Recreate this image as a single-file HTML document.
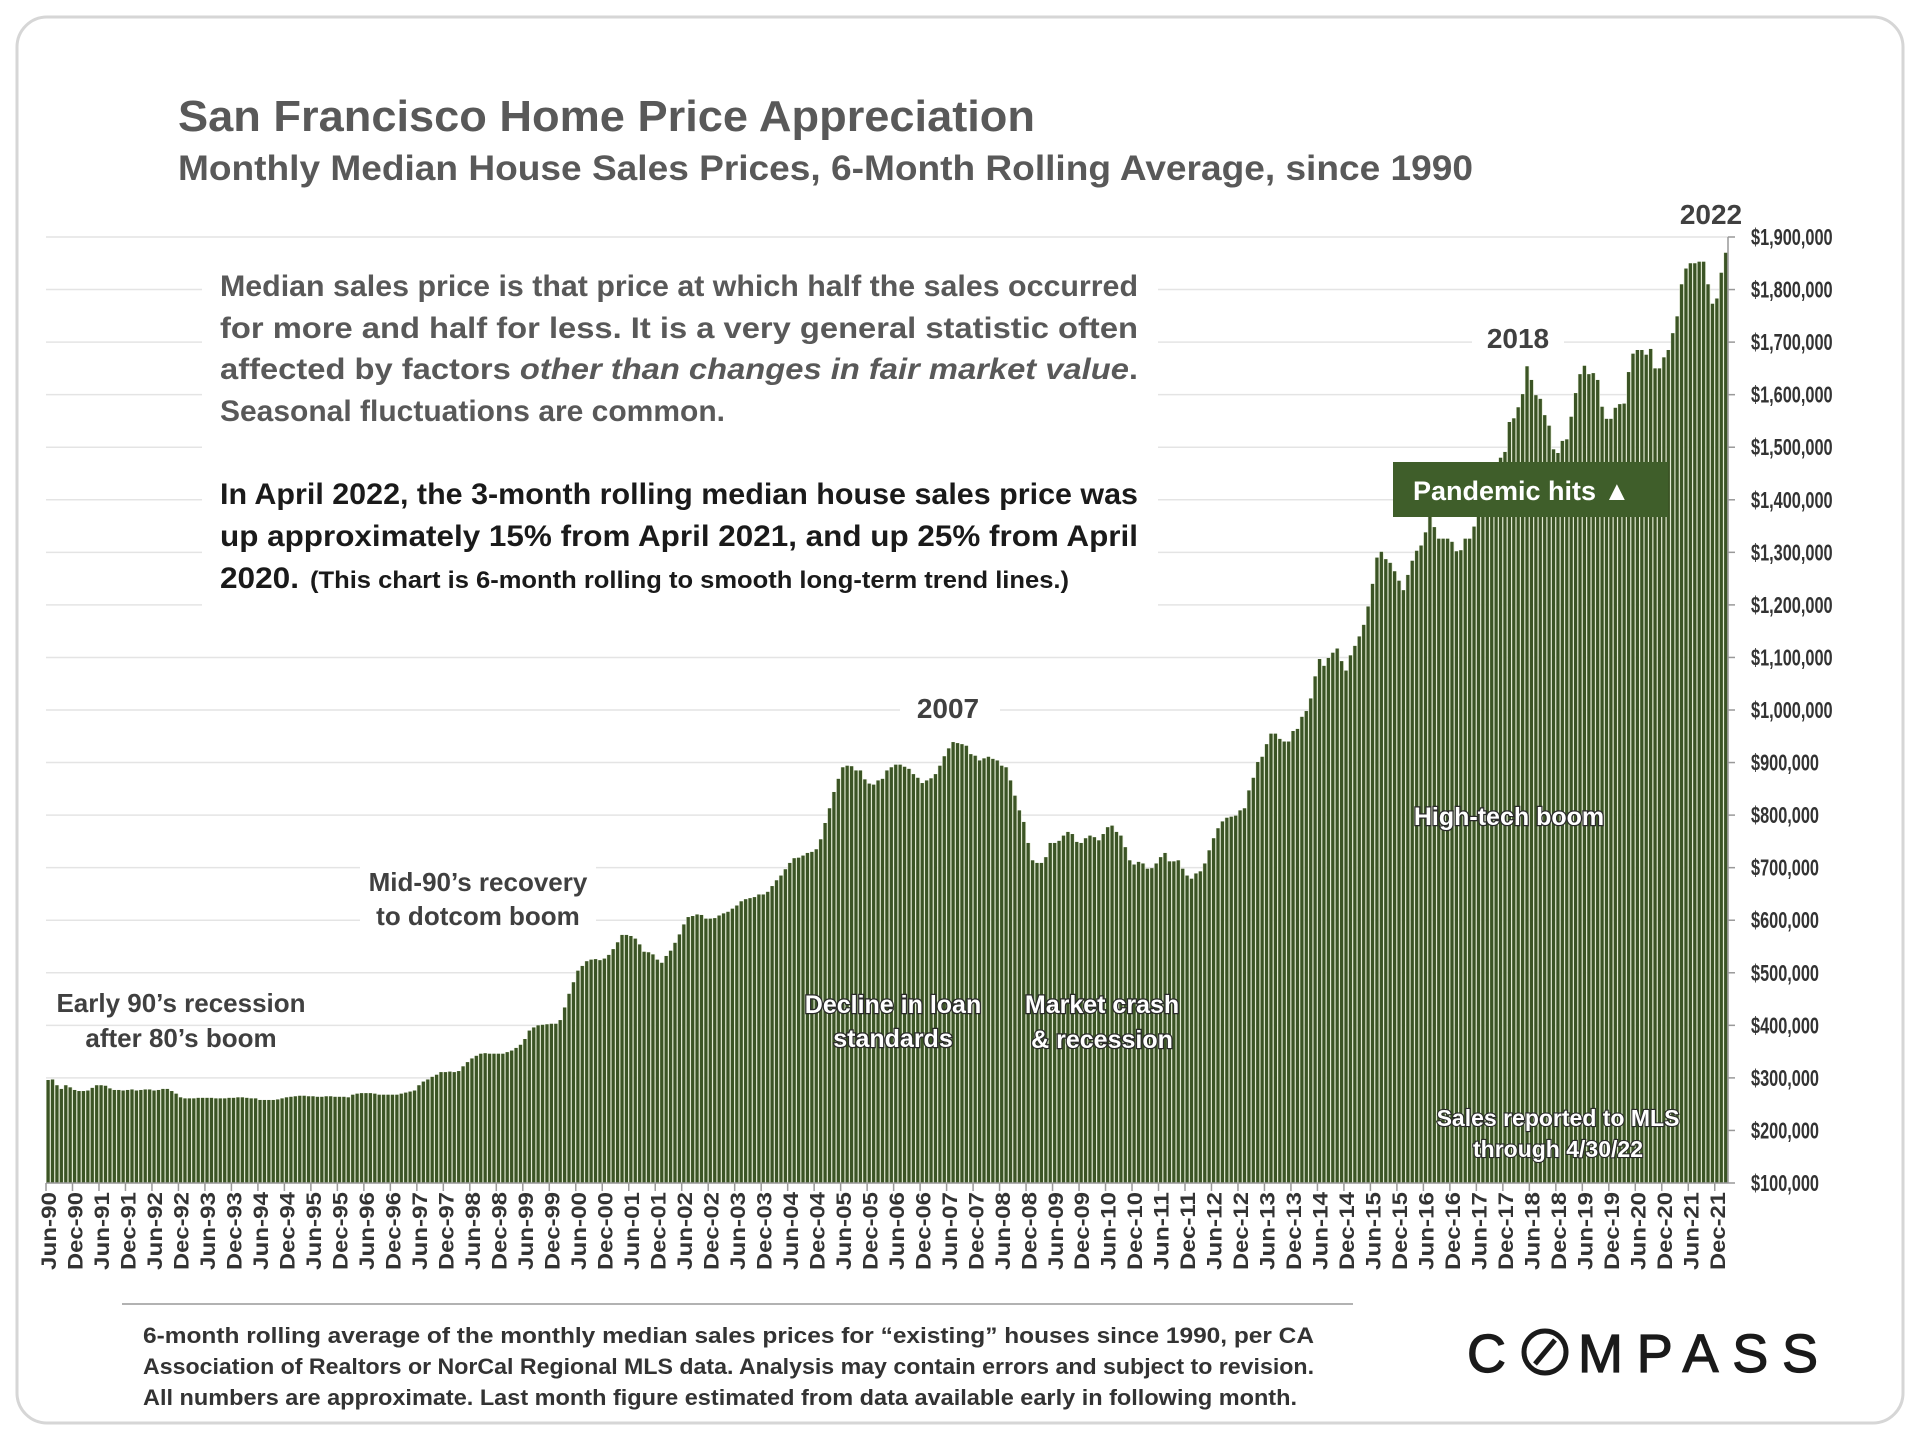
<!DOCTYPE html>
<html>
<head>
<meta charset="utf-8">
<style>
  html,body{margin:0;padding:0;background:#fff;}
  #wrap{position:relative;width:1920px;height:1440px;overflow:hidden;background:#fff;font-family:"Liberation Sans",sans-serif;}
  svg{position:absolute;left:0;top:0;}
</style>
</head>
<body>
<div id="wrap">
<svg id="chart" width="1920" height="1440" viewBox="0 0 1920 1440" xmlns="http://www.w3.org/2000/svg">
  <rect x="17" y="17" width="1886" height="1406" rx="30" ry="30" fill="#fff" stroke="#d6d6d6" stroke-width="3"/>
  <text x="178" y="131" font-family="Liberation Sans, sans-serif" font-weight="bold" font-size="44" fill="#595959" textLength="857" lengthAdjust="spacingAndGlyphs">San Francisco Home Price Appreciation</text>
  <text x="178" y="180" font-family="Liberation Sans, sans-serif" font-weight="bold" font-size="35" fill="#595959" textLength="1295" lengthAdjust="spacingAndGlyphs">Monthly Median House Sales Prices, 6-Month Rolling Average, since 1990</text>
  <g id="grid"></g>
  <g id="bars"></g>
  <g id="yaxis"></g>
  <g id="xaxis"></g>
</svg>
</div>
<script>
// ---- Chart data (monthly, Jun-1990 onward, values in $ thousands) ----
const startMonth = 5;   // June (0-based)
const startYear = 1990;
const prices = [
296,297,286,279,286,282,277,275,275,276,281,286,
286,285,280,277,277,276,277,278,276,277,278,278,
276,277,279,279,275,270,263,261,261,261,262,262,
262,262,261,261,261,262,262,263,263,262,261,261,
258,258,258,258,259,261,263,264,265,266,266,265,
265,264,264,265,265,264,264,264,263,268,270,271,
271,271,270,268,268,268,268,268,270,272,274,276,
286,293,297,302,306,311,311,312,311,313,322,330,
337,342,346,347,346,346,346,346,349,352,357,363,
374,390,396,400,401,402,403,403,410,434,460,482,
504,513,522,525,526,524,527,534,545,558,
572,572,570,565,554,540,539,535,525,519,532,542,557,573,
592,606,608,611,610,603,603,604,609,613,616,622,
628,636,640,642,644,649,649,654,665,676,685,697,
709,718,719,723,728,730,735,754,785,813,844,869,
891,894,893,885,885,868,860,858,866,869,885,891,
896,896,892,888,878,871,861,866,870,878,894,912,
927,939,937,935,932,916,913,904,908,911,907,904,
894,891,866,837,809,787,747,714,709,709,720,747,
747,751,761,768,764,749,747,756,761,758,752,764,
777,780,768,761,739,714,706,711,708,698,699,708,
720,728,712,712,714,698,685,679,689,693,
708,733,756,775,788,795,797,
799,809,813,847,871,901,911,935,955,955,945,940,
940,960,964,987,998,1022,1064,1097,1084,1099,1109,1117,
1093,1075,1104,1122,1140,1162,1197,1240,1290,1301,1287,1280,
1264,1246,1228,1257,1284,1303,1313,1338,1380,1348,1326,1326,
1326,1320,1302,1304,1326,1326,1349,1380,1400,1420,1440,1460,
1480,1491,1548,1555,1576,1601,1654,1628,1599,1592,1561,1541,
1496,1489,1512,1515,1558,1603,1639,1655,1639,1641,1628,1577,
1554,1554,1575,1582,1583,1643,1678,1685,1685,1676,1687,1650,
1650,1671,1685,1717,1749,1810,1840,1850,1850,1853,1853,1810,
1773,1783,1832,1870
];
const yTicks = [100,200,300,400,500,600,700,800,900,1000,1100,1200,1300,1400,1500,1600,1700,1800,1900];
const monthNames = ["Jan","Feb","Mar","Apr","May","Jun","Jul","Aug","Sep","Oct","Nov","Dec"];

const NS = "http://www.w3.org/2000/svg";
const X0 = 46, X1 = 1728, Y0 = 1183, Y1 = 237, VMIN = 100, VMAX = 1900;
const pitch = (X1 - X0) / prices.length;
function xScale(i){ return X0 + i * pitch; }
function yScale(v){ return Y0 - (v - VMIN) / (VMAX - VMIN) * (Y0 - Y1); }
function mk(tag, attrs){ const e = document.createElementNS(NS, tag); for (const k in attrs) e.setAttribute(k, attrs[k]); return e; }

// gridlines
const grid = document.getElementById('grid');
yTicks.forEach(v => {
  const l = mk('line', {x1:X0, x2:X1, y1:yScale(v), y2:yScale(v), stroke:'#e4e4e4', 'stroke-width':1.5});
  
  
  grid.appendChild(l);
});

// bars
const bars = document.getElementById('bars');
const maxV = Math.max.apply(null, prices);
const bg = mk('rect', {x:X0, y:yScale(maxV), width:X1-X0, height:0, fill:'none'});
prices.forEach((v, i) => {
  const gapr = mk('rect', {x:xScale(i), y:yScale(v), width:pitch, height:Y0-yScale(v), fill:'#dfe8cf'});
  
  
  bars.appendChild(gapr);
  const r = mk('rect', {x:xScale(i)+0.5, y:yScale(v), width:pitch-1.2, height:Y0-yScale(v), fill:'#3b5425'});
  
  
  bars.appendChild(r);
});

// y axis
const yaxis = document.getElementById('yaxis');
const yl = mk('line', {x1:X1, x2:X1, y1:Y1, y2:Y0, stroke:'#999', 'stroke-width':1.5});


yaxis.appendChild(yl);
yTicks.forEach(v => {
  const t = mk('line', {x1:X1, x2:X1+7, y1:yScale(v), y2:yScale(v), stroke:'#999', 'stroke-width':1.5});
  
  
  yaxis.appendChild(t);
  const s = '$' + (v*1000).toLocaleString('en-US');
  const nc = (s.match(/,/g)||[]).length;
  const em = (s.length - nc) * 0.556 + nc * 0.278;
  const tx = mk('text', {x:1751, y:yScale(v)+8, 'font-family':'Liberation Sans, sans-serif', 'font-weight':'bold', 'font-size':23, fill:'#333', textLength:(em*16.3).toFixed(1), lengthAdjust:'spacingAndGlyphs'});
  tx.textContent = s;
  
  
  yaxis.appendChild(tx);
});

// x axis
const xaxis = document.getElementById('xaxis');
const xl = mk('line', {x1:X0, x2:X1, y1:Y0, y2:Y0, stroke:'#999', 'stroke-width':1.5});


xaxis.appendChild(xl);
for (let i = 0; i < prices.length; i += 6) {
  const tk = mk('line', {x1:xScale(i), x2:xScale(i), y1:Y0, y2:Y0+8, stroke:'#999', 'stroke-width':1.5});
  
  
  xaxis.appendChild(tk);
  const mIdx = (startMonth + i) % 12;
  const yr = startYear + Math.floor((startMonth + i) / 12);
  const label = monthNames[mIdx] + '-' + String(yr % 100).padStart(2, '0');
  const cx = xScale(i) + pitch/2 + 8;
  const tx = mk('text', {x:cx, y:1192, transform:'rotate(-90 '+cx+' 1192)', 'text-anchor':'end', 'font-family':'Liberation Sans, sans-serif', 'font-weight':'bold', 'font-size':21, fill:'#333', textLength:78, lengthAdjust:'spacingAndGlyphs'});
  tx.textContent = label;
  
  
  xaxis.appendChild(tx);
}
</script>
<svg width="1920" height="1440" viewBox="0 0 1920 1440" xmlns="http://www.w3.org/2000/svg" style="position:absolute;left:0;top:0;">
  <g font-family="Liberation Sans, sans-serif" font-weight="bold">
    <rect x="202" y="258" width="956" height="350" fill="#fff"/>
    <g fill="#595959" font-size="30">
      <text x="220" y="296" textLength="918" lengthAdjust="spacingAndGlyphs">Median sales price is that price at which half the sales occurred</text>
      <text x="220" y="338" textLength="918" lengthAdjust="spacingAndGlyphs">for more and half for less. It is a very general statistic often</text>
      <text x="220" y="379" textLength="918" lengthAdjust="spacingAndGlyphs">affected by factors <tspan font-style="italic">other than changes in fair market value</tspan>.</text>
      <text x="220" y="421" textLength="505" lengthAdjust="spacingAndGlyphs">Seasonal fluctuations are common.</text>
    </g>
    <g fill="#1a1a1a" font-size="30">
      <text x="220" y="504" textLength="918" lengthAdjust="spacingAndGlyphs">In April 2022, the 3-month rolling median house sales price was</text>
      <text x="220" y="546" textLength="918" lengthAdjust="spacingAndGlyphs">up approximately 15% from April 2021, and up 25% from April</text>
      <text x="220" y="588" textLength="79" lengthAdjust="spacingAndGlyphs">2020.</text>
      <text x="310" y="588" font-size="24" textLength="759" lengthAdjust="spacingAndGlyphs">(This chart is 6-month rolling to smooth long-term trend lines.)</text>
    </g>
    <rect x="900" y="690" width="100" height="34" fill="#fff"/>
    <text x="948" y="718" text-anchor="middle" font-size="28" fill="#404040">2007</text>
    <rect x="1472" y="320" width="92" height="34" fill="#fff"/>
    <text x="1518" y="348" text-anchor="middle" font-size="28" fill="#404040">2018</text>
    <text x="1711" y="224" text-anchor="middle" font-size="28" fill="#404040">2022</text>
    <g font-size="26" fill="#404040" text-anchor="middle">
      <rect x="360" y="858" width="236" height="76" fill="#fff"/>
      <text x="478" y="891">Mid-90’s recovery</text>
      <text x="478" y="925">to dotcom boom</text>
    </g>
    <g font-size="26" fill="#404040" text-anchor="middle">
      <text x="181" y="1012">Early 90’s recession</text>
      <text x="181" y="1047">after 80’s boom</text>
    </g>
    <g font-size="25" fill="#fff" stroke="#2a2a2a" stroke-width="2.5" paint-order="stroke" text-anchor="middle">
      <text x="893" y="1013">Decline in loan</text>
      <text x="893" y="1047">standards</text>
    </g>
    <g font-size="25" fill="#fff" stroke="#2a2a2a" stroke-width="2.5" paint-order="stroke" text-anchor="middle">
      <text x="1102" y="1013">Market crash</text>
      <text x="1102" y="1048">&amp; recession</text>
    </g>
    <text x="1509" y="825" font-size="25" fill="#fff" stroke="#2a2a2a" stroke-width="2.5" paint-order="stroke" text-anchor="middle">High-tech boom</text>
    <g font-size="23" fill="#fff" stroke="#2a2a2a" stroke-width="2.2" paint-order="stroke" text-anchor="middle">
      <text x="1558" y="1126">Sales reported to MLS</text>
      <text x="1558" y="1157">through 4/30/22</text>
    </g>
    <rect x="1393" y="462" width="275" height="55" fill="#3f5e2a"/>
    <text x="1413" y="500" font-size="27" fill="#fff">Pandemic hits ▲</text>
    <line x1="122" y1="1304" x2="1353" y2="1304" stroke="#999" stroke-width="1.5"/>
    <g font-size="22" fill="#333">
      <text x="143" y="1343" textLength="1171" lengthAdjust="spacingAndGlyphs">6-month rolling average of the monthly median sales prices for “existing” houses since 1990, per CA</text>
      <text x="143" y="1374" textLength="1171" lengthAdjust="spacingAndGlyphs">Association of Realtors or NorCal Regional MLS data.  Analysis may contain errors and subject to revision.</text>
      <text x="143" y="1405" textLength="1154" lengthAdjust="spacingAndGlyphs">All numbers are approximate. Last month figure estimated from data available early in following month.</text>
    </g>
    <g stroke="#1a1a1a" stroke-width="1.2">
      <text x="1467" y="1372" font-size="54" font-weight="normal" fill="#1a1a1a">C</text>
      <circle cx="1545" cy="1352" r="21" fill="none" stroke="#1a1a1a" stroke-width="5"/>
      <line x1="1535" y1="1364" x2="1555" y2="1340" stroke="#1a1a1a" stroke-width="5"/>
      <text x="1578" y="1372" font-size="54" font-weight="normal" fill="#1a1a1a" textLength="240" lengthAdjust="spacing">MPASS</text>
    </g>
  </g>
</svg>
</body>
</html>
